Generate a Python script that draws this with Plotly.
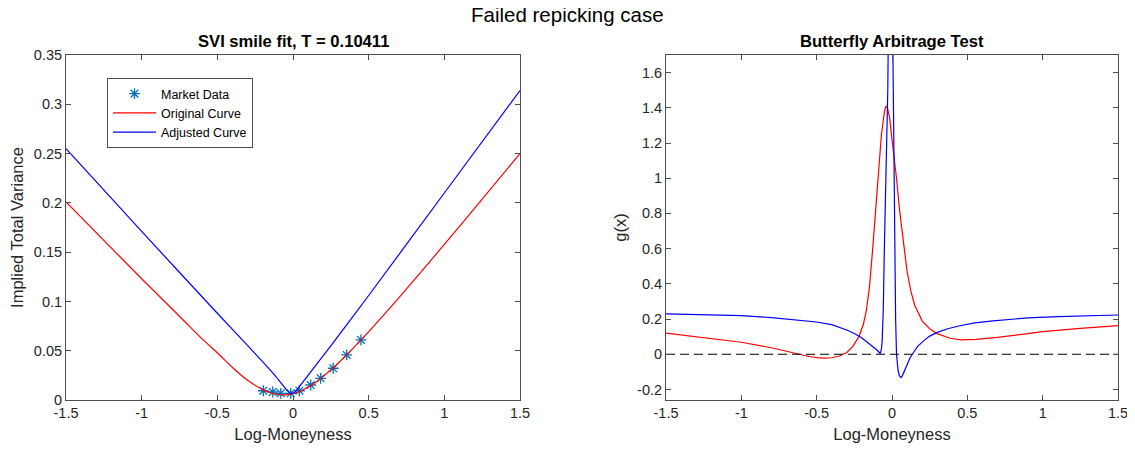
import plotly.graph_objects as go

# ---------------- data ----------------
# Left panel: SVI smile fit
market_k = [-0.196, -0.134, -0.081, -0.015, 0.042, 0.117, 0.183, 0.266, 0.355, 0.449]
market_w = [0.0094, 0.0081, 0.0068, 0.0068, 0.0094, 0.0152, 0.0220, 0.0322, 0.0457, 0.0609]

orig_k = [-1.5, -1.25, -1.0, -0.75, -0.6, -0.5, -0.4, -0.3, -0.2, -0.15, -0.1, -0.05,
          0.0, 0.05, 0.1, 0.15, 0.2, 0.3, 0.45, 0.6, 0.75, 1.0, 1.25, 1.5]
orig_w = [0.201, 0.162, 0.123, 0.085, 0.062, 0.048, 0.033, 0.020, 0.0105, 0.0073, 0.0056, 0.0052,
          0.0065, 0.0092, 0.0131, 0.0181, 0.024, 0.0376, 0.061, 0.0864, 0.1127, 0.1578, 0.2037, 0.250]

adj_k = [-1.5, -1.0, -0.5, -0.25, -0.12, -0.07, -0.04, -0.02, -0.01, 0.0, 0.015,
         0.03, 0.06, 0.12, 0.25, 0.5, 1.0, 1.5]
adj_w = [0.255, 0.171, 0.088, 0.047, 0.025, 0.0155, 0.0098, 0.0070, 0.0063, 0.0068, 0.0085,
         0.0112, 0.0172, 0.029, 0.055, 0.106, 0.210, 0.314]

# Right panel: butterfly arbitrage g(x)
g_orig_k = [-1.5, -1.25, -1.0, -0.8, -0.65, -0.55, -0.5, -0.45, -0.4, -0.35, -0.3, -0.26,
            -0.22, -0.19, -0.17, -0.15, -0.13, -0.11, -0.09, -0.07, -0.05, -0.04, -0.03,
            -0.015, 0.0, 0.015, 0.03, 0.05, 0.075, 0.1, 0.125, 0.15, 0.2, 0.25, 0.3, 0.385,
            0.46, 0.56, 0.7, 0.85, 1.0, 1.25, 1.5]
g_orig = [0.120, 0.094, 0.068, 0.037, 0.006, -0.013, -0.019, -0.022, -0.020, -0.010, 0.010, 0.045,
          0.100, 0.170, 0.250, 0.380, 0.580, 0.800, 1.050, 1.250, 1.380, 1.410, 1.400,
          1.340, 1.220, 1.120, 1.000, 0.820, 0.630, 0.470, 0.360, 0.280, 0.190, 0.145, 0.117, 0.091,
          0.082, 0.084, 0.096, 0.112, 0.128, 0.147, 0.163]

g_adj_k = [-1.5, -1.25, -1.0, -0.8, -0.65, -0.5, -0.4, -0.34, -0.3, -0.25, -0.21, -0.17,
           -0.124, -0.1, -0.078, -0.07, -0.065, -0.058, -0.051, -0.043, -0.035, -0.028, -0.02,
           -0.01, 0.0, 0.005, 0.011, 0.018, 0.024, 0.03, 0.04, 0.05, 0.06, 0.07, 0.08, 0.1,
           0.12, 0.143, 0.17, 0.21, 0.25, 0.3, 0.37, 0.45, 0.55, 0.67, 0.8, 0.9, 1.1, 1.3, 1.5]
g_adj = [0.229, 0.226, 0.219, 0.208, 0.197, 0.183, 0.168, 0.152, 0.138, 0.118, 0.098, 0.072,
         0.041, 0.024, 0.004, 0.030, 0.080, 0.250, 0.590, 0.900, 1.160, 1.500, 2.200,
         3.500, 3.000, 1.800, 1.160, 0.590, 0.200, 0.000, -0.090, -0.125, -0.133, -0.120, -0.100, -0.055,
         -0.020, 0.010, 0.045, 0.076, 0.103, 0.124, 0.145, 0.162, 0.178, 0.190, 0.200, 0.206, 0.214, 0.219, 0.223]

zero_k = [-1.5, 1.5]
zero_g = [0, 0]

x_ticks = [-1.5, -1, -0.5, 0, 0.5, 1, 1.5]
x_ticktext = ["-1.5", "-1", "-0.5", "0", "0.5", "1", "1.5"]
left_y_ticks = [0, 0.05, 0.1, 0.15, 0.2, 0.25, 0.3, 0.35]
left_y_ticktext = ["0", "0.05", "0.1", "0.15", "0.2", "0.25", "0.3", "0.35"]
right_y_ticks = [-0.2, 0, 0.2, 0.4, 0.6, 0.8, 1.0, 1.2, 1.4, 1.6]
right_y_ticktext = ["-0.2", "0", "0.2", "0.4", "0.6", "0.8", "1", "1.2", "1.4", "1.6"]

# ---------------- figure ----------------
# The page body has an 8px margin; offset everything by it
OFF = 8
W, H = 1135 - OFF, 452 - OFF
FONT = "Liberation Sans, Arial, Helvetica, sans-serif"
AX = "#262626"
AXLINE = "#4d4d4d"
RED = "#FF0000"
BLUE = "#0000FF"
MK = "#0072BD"

fig = go.Figure()

fig.add_trace(go.Scatter(x=market_k, y=market_w, mode="markers", name="Market Data",
                         marker=dict(symbol="asterisk-open", size=9, color=MK,
                                     line=dict(color=MK, width=1.3)),
                         xaxis="x", yaxis="y"))
fig.add_trace(go.Scatter(x=orig_k, y=orig_w, mode="lines", name="Original Curve",
                         line=dict(color=RED, width=1.2, shape="spline", smoothing=0.8),
                         xaxis="x", yaxis="y"))
fig.add_trace(go.Scatter(x=adj_k, y=adj_w, mode="lines", name="Adjusted Curve",
                         line=dict(color=BLUE, width=1.2, shape="spline", smoothing=0.6),
                         xaxis="x", yaxis="y"))

fig.add_trace(go.Scatter(x=g_orig_k, y=g_orig, mode="lines", showlegend=False,
                         line=dict(color=RED, width=1.2), xaxis="x2", yaxis="y2"))
fig.add_trace(go.Scatter(x=g_adj_k, y=g_adj, mode="lines", showlegend=False,
                         line=dict(color=BLUE, width=1.2), xaxis="x2", yaxis="y2"))
fig.add_trace(go.Scatter(x=zero_k, y=zero_g, mode="lines", showlegend=False,
                         line=dict(color="black", width=1.2, dash="9px,5px"),
                         xaxis="x2", yaxis="y2"))

def px_x(p):
    return (p - OFF) / W

def px_y(p):
    return 1 - (p - OFF) / H

axis_common = dict(showline=True, linecolor=AXLINE, linewidth=1, mirror="allticks",
                   ticks="inside", ticklen=5, tickcolor=AXLINE, showgrid=False, zeroline=False,
                   automargin=False,
                   tickfont=dict(family=FONT, size=14.5, color=AX))
title_font = dict(family=FONT, size=16.5, color=AX)

fig.update_layout(
    width=W, height=H,
    paper_bgcolor="white", plot_bgcolor="white",
    margin=dict(l=0, r=0, t=0, b=0, autoexpand=False),
    showlegend=True,
    xaxis=dict(domain=[px_x(66), px_x(520)], range=[-1.5, 1.5], anchor="y",
               tickvals=x_ticks, ticktext=x_ticktext,
               title=dict(text="Log-Moneyness", font=title_font, standoff=8),
               **axis_common),
    yaxis=dict(domain=[px_y(400), px_y(55)], range=[0, 0.35], anchor="x",
               tickvals=left_y_ticks, ticktext=left_y_ticktext,
               title=dict(text="Implied Total Variance", font=title_font, standoff=6),
               **axis_common),
    xaxis2=dict(domain=[px_x(666), px_x(1118)], range=[-1.5, 1.5], anchor="y2",
                tickvals=x_ticks, ticktext=x_ticktext,
                title=dict(text="Log-Moneyness", font=title_font, standoff=8),
                **axis_common),
    yaxis2=dict(domain=[px_y(400), px_y(55)], range=[-0.26, 1.7], anchor="x2",
                tickvals=right_y_ticks, ticktext=right_y_ticktext,
                title=dict(text="g(x)", font=title_font, standoff=6),
                **axis_common),
    legend=dict(x=px_x(107), y=px_y(78), xanchor="left", yanchor="top",
                bgcolor="white", bordercolor=AXLINE, borderwidth=1,
                font=dict(family=FONT, size=12.5, color="black"),
                tracegroupgap=0, itemwidth=43),
    annotations=[
        dict(text="Failed repicking case", x=px_x(567.5), y=px_y(15), xref="paper", yref="paper",
             xanchor="center", yanchor="middle", showarrow=False,
             font=dict(family=FONT, size=20.5, color="black")),
        dict(text="<b>SVI smile fit, T = 0.10411</b>", x=px_x(293), y=px_y(41), xref="paper", yref="paper",
             xanchor="center", yanchor="middle", showarrow=False,
             font=dict(family=FONT, size=16.6, color="black")),
        dict(text="<b>Butterfly Arbitrage Test</b>", x=px_x(892), y=px_y(41), xref="paper", yref="paper",
             xanchor="center", yanchor="middle", showarrow=False,
             font=dict(family=FONT, size=16.6, color="black")),
    ],
)

fig.write_html("out.html")
